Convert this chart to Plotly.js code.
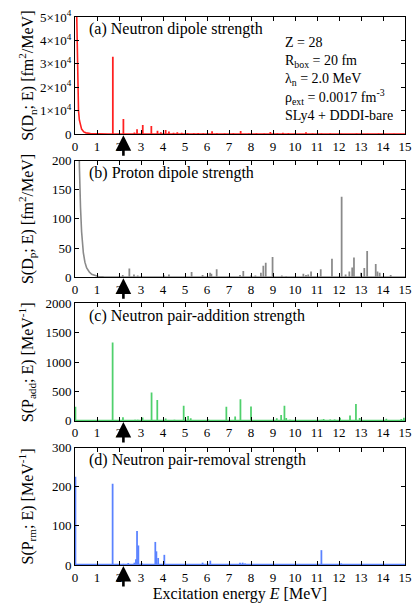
<!DOCTYPE html>
<html>
<head>
<meta charset="utf-8">
<script src="https://cdn.plot.ly/plotly-3.0.1.min.js"></script>
<style>
  html, body { margin: 0; padding: 0; background: #fff; }
  #chart { width: 415px; height: 605px; }
</style>
</head>
<body>
<div id="chart"></div>
<script>
// peak positions (MeV) and strengths

// (a) neutron dipole
const dnE = [1.72, 2.2, 2.7, 2.82, 3.08, 3.47, 3.75, 3.9, 4.12, 4.27, 4.48, 4.65, 4.85, 5.12, 5.4, 5.6, 5.83, 6.03, 6.23, 6.45, 6.8, 7.2, 7.53, 7.9, 8.25, 8.6, 8.88, 9.2, 9.45, 9.7, 10.0, 10.5, 10.8, 11.2, 11.6, 12.1, 12.8, 13.3, 13.8, 14.5];
const dnS = [33000, 6500, 800, 2100, 4000, 3500, 1500, 900, 1800, 1200, 700, 900, 700, 500, 400, 500, 400, 300, 1300, 400, 300, 400, 1400, 300, 400, 300, 1000, 400, 600, 500, 300, 900, 300, 300, 300, 250, 300, 250, 300, 200];
const dnTailE = [0, 0.04, 0.07, 0.1, 0.13, 0.16, 0.2, 0.25, 0.3, 0.4, 0.5, 0.7, 1.0, 1.5, 15];
const dnTailS = [60000, 60000, 55000, 32000, 17000, 10000, 6000, 3500, 2200, 1000, 600, 300, 150, 120, 120];

// (b) proton dipole
const dpE = [2.17, 2.47, 2.68, 2.85, 4.05, 4.27, 5.3, 5.8, 6.14, 6.2, 6.44, 7.5, 7.65, 8.0, 8.2, 8.45, 8.56, 8.67, 8.98, 9.4, 9.6, 10.38, 10.5, 10.6, 10.73, 11.17, 11.68, 12.12, 12.3, 12.47, 12.6, 12.68, 13.0, 13.15, 13.28, 13.67, 13.75, 13.85, 14.35];
const dpS = [4, 15, 5, 3, 3, 5, 9, 4, 8, 6, 14, 4, 11, 3, 3, 8, 20, 25, 35, 3, 2, 6, 4, 5, 10, 14, 32, 138, 5, 10, 17, 34, 8, 16, 45, 23, 10, 8, 4];
const dpTailE = [0.1, 0.15, 0.2, 0.25, 0.3, 0.38, 0.45, 0.53, 0.65, 0.76, 0.9, 1.06, 1.3, 1.6, 2.0, 15];
const dpTailS = [500, 300, 190, 120, 78, 42, 26, 16, 9, 5, 3, 1.5, 0.8, 0.5, 0.4, 0.4];

// (c) neutron pair-addition
const paE = [0.02, 1.71, 2.18, 2.73, 2.85, 3.07, 3.48, 3.74, 4.12, 4.52, 4.94, 5.14, 5.26, 6.06, 6.47, 6.88, 7.28, 7.52, 8.0, 8.83, 9.0, 9.17, 9.37, 9.52, 9.6, 9.77, 10.25, 10.5, 10.9, 11.2, 11.3, 11.6, 11.8, 12.05, 12.5, 12.77, 12.94, 13.1, 13.36, 14.15, 14.83, 14.95];
const paS = [240, 1335, 60, 20, 20, 58, 483, 353, 40, 20, 258, 85, 45, 25, 10, 240, 75, 368, 245, 15, 20, 45, 100, 258, 50, 20, 15, 10, 15, 20, 30, 25, 25, 55, 90, 287, 50, 15, 15, 35, 30, 55];
const paBaseE = [0, 15];
const paBaseS = [5, 5];

// (d) neutron pair-removal
const prE = [0.02, 1.71, 2.2, 2.42, 2.7, 2.77, 2.82, 2.88, 3.03, 3.65, 3.7, 3.78, 4.06, 5.8, 6.15, 6.5, 7.5, 7.62, 7.73, 11.2, 12.1];
const prS = [226, 208, 3, 5, 6, 15, 87, 50, 5, 59, 35, 18, 26, 6, 11, 2, 6, 6, 4, 38, 4];
const prBaseE = [0, 15];
const prBaseS = [1, 1];

const RED = "#ff2020";
const GREY = "#8a8a8a";
const GREEN = "#4fd06c";
const BLUE = "#5a82ff";
const FONT = "Liberation Serif, Times New Roman, serif";
const PEAK_WIDTH = 0.08;

function peaks(x, y, color, axis) {
  return {
    type: "bar", x: x, y: y, width: PEAK_WIDTH,
    marker: { color: color, line: { width: 0 } },
    xaxis: "x" + axis, yaxis: "y" + axis,
    hoverinfo: "x+y", showlegend: false,
  };
}

function curve(x, y, color, axis) {
  return {
    type: "scatter", mode: "lines", x: x, y: y,
    line: { color: color, width: 1.6 },
    xaxis: "x" + axis, yaxis: "y" + axis,
    hoverinfo: "skip", showlegend: false,
  };
}

const traces = [
  curve(dnTailE, dnTailS, RED, ""),
  peaks(dnE, dnS, RED, ""),
  curve(dpTailE, dpTailS, GREY, "2"),
  peaks(dpE, dpS, GREY, "2"),
  curve(paBaseE, paBaseS, GREEN, "3"),
  peaks(paE, paS, GREEN, "3"),
  curve(prBaseE, prBaseS, BLUE, "4"),
  peaks(prE, prS, BLUE, "4"),
];

const panels = [
  { domain: [0.786, 1.0], range: [0, 50000], tickvals: [0, 10000, 20000, 30000, 40000, 50000],
    ticktext: ["0", "1×10<sup>4</sup>", "2×10<sup>4</sup>", "3×10<sup>4</sup>", "4×10<sup>4</sup>", "5×10<sup>4</sup>"],
    label: "(a) Neutron dipole strength", ytitle: "S(D<sub>n</sub>; E) [fm<sup>2</sup>/MeV]" },
  { domain: [0.525, 0.738], range: [0, 200], tickvals: [0, 50, 100, 150, 200],
    label: "(b) Proton dipole strength", ytitle: "S(D<sub>p</sub>; E) [fm<sup>2</sup>/MeV]" },
  { domain: [0.263, 0.4776], range: [0, 2000], tickvals: [0, 500, 1000, 1500, 2000],
    label: "(c) Neutron pair-addition strength", ytitle: "S(P<sub>add</sub>; E) [MeV<sup>-1</sup>]" },
  { domain: [0, 0.214], range: [0, 300], tickvals: [0, 100, 200, 300],
    label: "(d) Neutron pair-removal strength", ytitle: "S(P<sub>rm</sub>; E) [MeV<sup>-1</sup>]" },
];

const layout = {
  width: 415, height: 605,
  margin: { l: 75, r: 10, t: 17, b: 40 },
  paper_bgcolor: "#fff", plot_bgcolor: "#fff",
  font: { family: FONT, size: 13, color: "#000" },
  showlegend: false,
  barmode: "overlay",
  annotations: [],
};

panels.forEach((p, i) => {
  const n = i === 0 ? "" : String(i + 1);
  layout["xaxis" + n] = {
    domain: [0, 1], range: [0, 15], anchor: "y" + n,
    dtick: 1, tick0: 0, ticks: "inside", ticklen: 4, tickcolor: "#000",
    showline: true, linecolor: "#000", linewidth: 1, mirror: "ticks",
    showgrid: false, zeroline: false, fixedrange: true,
    tickfont: { family: FONT, size: 13 },
    title: i === 3 ? { text: "Excitation energy <i>E</i> [MeV]", font: { family: FONT, size: 16 }, standoff: 4 } : { text: "" },
  };
  layout["yaxis" + n] = {
    domain: p.domain, range: p.range, anchor: "x" + n,
    tickvals: p.tickvals, ticktext: p.ticktext,
    ticks: "inside", ticklen: 4, tickcolor: "#000",
    showline: true, linecolor: "#000", linewidth: 1, mirror: "ticks",
    showgrid: false, zeroline: false, fixedrange: true,
    tickfont: { family: FONT, size: 13 },
  };
  const xr = "x" + n, yr = "y" + n;
  layout.annotations.push({
    xref: xr + " domain", yref: yr + " domain", x: 0.036, y: 0.895,
    xanchor: "left", yanchor: "middle", showarrow: false,
    text: p.label, font: { family: FONT, size: 16 },
  });
  layout.annotations.push({
    xref: "paper", yref: yr + " domain", x: -0.145, y: 0.5,
    xanchor: "center", yanchor: "middle", showarrow: false, textangle: -90,
    text: p.ytitle, font: { family: FONT, size: 16 },
  });
  layout.annotations.push({
    xref: xr, yref: yr, x: 2.2, y: p.range[0], yshift: -1,
    ax: 0, ay: 22, text: "", showarrow: true,
    arrowhead: 2, arrowsize: 1.2, arrowwidth: 2.6, arrowcolor: "#000",
  });
});

layout.annotations.push({
  xref: "x domain", yref: "y domain", x: 0.63, y: 0.47,
  xanchor: "left", yanchor: "middle", align: "left", showarrow: false,
  font: { family: FONT, size: 14 },
  text: "Z = 28<br>R<sub>box</sub> = 20 fm<br>λ<sub>n</sub> = 2.0 MeV<br>ρ<sub>ext</sub> = 0.0017 fm<sup>-3</sup><br>SLy4 + DDDI-bare",
});

Plotly.newPlot("chart", traces, layout, { displayModeBar: false, staticPlot: true });
</script>
</body>
</html>
